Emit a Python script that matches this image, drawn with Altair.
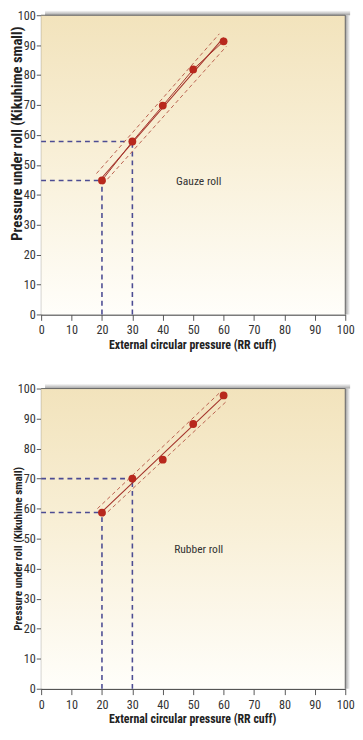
import altair as alt
import pandas as pd

# ---------------- data ----------------
x_vals = [20, 30, 40, 50, 60]
gauze_y = [44.8, 57.8, 69.8, 81.9, 91.3]
rubber_y = [58.7, 70.0, 76.3, 88.2, 97.7]

gauze_upper_x = [18.2, 58.6]
gauze_upper_y = [47.1, 93.8]
gauze_lower_x = [20.3, 60.9]
gauze_lower_y = [43.5, 89.6]
rubber_upper_x = [18.5, 58.9]
rubber_upper_y = [60.0, 98.8]
rubber_lower_x = [20.3, 61.0]
rubber_lower_y = [57.4, 95.8]

gauze_guide_x = [20, 30]
gauze_guide_y = [44.8, 57.8]
rubber_guide_x = [20, 30]
rubber_guide_y = [58.7, 70.0]

tick_values = [0, 10, 20, 30, 40, 50, 60, 70, 80, 90, 100]
x_title = "External circular pressure (RR cuff)"
y_title = "Pressure under roll (Kikuhime small)"
panel_labels = ["Gauze roll", "Rubber roll"]
label_x = [51.8, 51.8]
label_y = [44.7, 46.5]

# ---------------- style ----------------
FONT = "Roboto Condensed, Liberation Sans Narrow, DejaVu Sans Condensed, sans-serif"
W = 312
POINT = "#b8281d"
LINE = "#a3322a"
BAND = "#b9604e"
GUIDE = "#4c4c93"

bg_grad = alt.LinearGradient(
    gradient="linear", x1=0, x2=0, y1=0, y2=1,
    stops=[alt.GradientStop(color="#f2e3bc", offset=0),
           alt.GradientStop(color="#f8efd6", offset=0.45),
           alt.GradientStop(color="#fffefa", offset=1)])
top_shadow = alt.LinearGradient(
    gradient="linear", x1=0, x2=0, y1=0, y2=1,
    stops=[alt.GradientStop(color="rgba(150,150,150,0)", offset=0),
           alt.GradientStop(color="rgba(150,150,150,0.9)", offset=1)])
right_shadow = alt.LinearGradient(
    gradient="linear", x1=0, x2=1, y1=0, y2=0,
    stops=[alt.GradientStop(color="rgba(150,150,150,0.9)", offset=0),
           alt.GradientStop(color="rgba(150,150,150,0)", offset=1)])

one = alt.Data(values=[{"a": 1}])


def panel(ys, ux, uy, lx, ly, gx, gy, label, lxv, lyv, H, ytitle_size, ytitle_y, connect):
    pts = pd.DataFrame({"x": x_vals, "y": ys})
    band = pd.DataFrame({"x": ux + lx, "y": uy + ly, "k": ["u", "u", "l", "l"]})
    grows = []
    for gxx, gyy in zip(gx, gy):
        grows.append({"x": 0, "x2": gxx, "y": gyy, "y2": gyy})
        grows.append({"x": gxx, "x2": gxx, "y": 0, "y2": gyy})
    guides = pd.DataFrame(grows)

    xs = alt.Scale(domain=[0, 100], nice=False)
    yscale = alt.Scale(domain=[0, 100], nice=False)
    xaxis = alt.Axis(values=tick_values, tickCount=11, grid=False, tickSize=6, labelPadding=4,
                     labelOverlap=False, labelFlush=False,
                     domainColor="#555555", domainWidth=1.5, tickColor="#555555",
                     labelFont=FONT, labelFontSize=12.5, labelColor="#333333",
                     title=x_title, titleFont=FONT, titleFontSize=12.2,
                     titleFontWeight="bold", titleColor="#222222",
                     titleX=W / 2 - 1, titleY=30.5, titleBaseline="middle", titleAlign="center")
    yaxis = alt.Axis(values=tick_values, tickCount=11, grid=False, tickSize=5, labelPadding=1,
                     labelOverlap=False, labelFlush=False,
                     domainColor="#555555", domainWidth=1.5, tickColor="#555555",
                     labelFont=FONT, labelFontSize=12.5, labelColor="#333333",
                     title=y_title, titleFont=FONT, titleFontSize=ytitle_size,
                     titleFontWeight="bold", titleColor="#222222",
                     titleX=-20.5, titleY=ytitle_y, titleAngle=270,
                     titleBaseline="alphabetic", titleAlign="center")

    def X(f="x:Q"):
        return alt.X(f, scale=xs, axis=xaxis)

    def Y(f="y:Q"):
        return alt.Y(f, scale=yscale, axis=yaxis)

    bg = alt.Chart(one).mark_rect(color=bg_grad).encode(
        x=alt.value(0), x2=alt.value(W), y=alt.value(0), y2=alt.value(H))
    sh_top = alt.Chart(one).mark_rect(color=top_shadow).encode(
        x=alt.value(4), x2=alt.value(W + 5), y=alt.value(-5), y2=alt.value(0))
    sh_right = alt.Chart(one).mark_rect(color=right_shadow).encode(
        x=alt.value(W), x2=alt.value(W + 5), y=alt.value(0), y2=alt.value(H))
    b_top = alt.Chart(one).mark_rule(color="#666666", strokeWidth=1).encode(
        x=alt.value(0), x2=alt.value(W), y=alt.value(0))
    b_right = alt.Chart(one).mark_rule(color="#666666", strokeWidth=1).encode(
        x=alt.value(W), y=alt.value(0), y2=alt.value(H))

    g = alt.Chart(guides).mark_rule(color=GUIDE, strokeWidth=1.6, strokeDash=[5, 4]).encode(
        x=X(), x2="x2:Q", y=Y(), y2="y2:Q")
    bl = alt.Chart(band).mark_line(color=BAND, strokeWidth=1, strokeDash=[4, 3]).encode(
        x=X(), y=Y(), detail="k:N")
    reg = alt.Chart(pts).transform_regression("x", "y").mark_line(
        color=LINE, strokeWidth=1.1).encode(x=X(), y=Y())
    layers = [bg, sh_top, sh_right, b_top, b_right, g, bl, reg]
    if connect:
        con = alt.Chart(pts).mark_line(color=LINE, strokeWidth=1).encode(x=X(), y=Y())
        layers.append(con)
    p = alt.Chart(pts).mark_circle(color=POINT, opacity=1, size=64).encode(x=X(), y=Y())
    t = alt.Chart(pd.DataFrame({"x": [lxv], "y": [lyv], "t": [label]})).mark_text(
        font=FONT, fontSize=11.8, color="#333333", align="center", baseline="middle").encode(
        x=X(), y=Y(), text="t:N")
    layers += [p, t]
    return alt.layer(*layers).properties(width=W, height=H)


top = panel(gauze_y, gauze_upper_x, gauze_upper_y, gauze_lower_x, gauze_lower_y,
            gauze_guide_x, gauze_guide_y, panel_labels[0], label_x[0], label_y[0],
            307, 15, 121, True)
bottom = panel(rubber_y, rubber_upper_x, rubber_upper_y, rubber_lower_x, rubber_lower_y,
               rubber_guide_x, rubber_guide_y, panel_labels[1], label_x[1], label_y[1],
               308, 11.5, 164, False)

chart = alt.vconcat(top, bottom, spacing=31).properties(
    padding={"left": 0, "top": -9, "right": 0, "bottom": 0}).configure_view(
    stroke=None).configure(background="white")

chart.save("out.html", embed_options={"renderer": "svg", "actions": False})
